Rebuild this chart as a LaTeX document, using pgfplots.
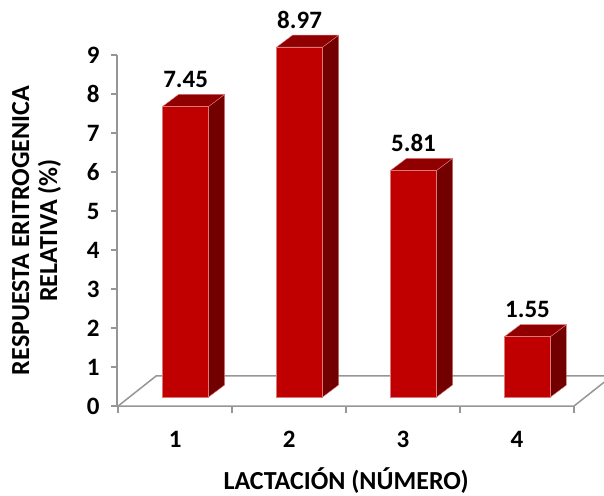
\documentclass[border=0pt]{standalone}
\usepackage{fontspec}
\setmainfont{Carlito}
\usepackage{pgfplots}
\usepackage{pgfplotstable}
\pgfplotsset{compat=1.18}

\definecolor{barfront}{RGB}{192,0,0}
\definecolor{bartop}{RGB}{145,0,0}
\definecolor{barside}{RGB}{115,0,0}
\definecolor{baredge}{RGB}{220,120,120}
\definecolor{axisgray}{RGB}{150,150,150}

\pgfplotstableread{
lact valor
1 7.45
2 8.97
3 5.81
4 1.55
}\datos

% oblique bar geometry, in axis units
\def\sx{0.092}   % x shift of the bar from the category centre
\def\hw{0.2018}  % half width of the front face
\def\bb{0.23}    % height of the bar base above the floor front edge
\def\dx{0.140}   % depth offset in x
\def\dy{0.308}   % depth offset in y

\begin{document}
\begin{tikzpicture}
\begin{axis}[
  scale only axis, width=487pt, height=406pt,
  xmin=0.49, xmax=4.763, ymin=0, ymax=10.41,
  clip=false,
  axis lines*=left,
  axis line style={draw=none},
  ytick={0,...,9},
  xtick={1,2,3,4},
  xticklabels={1,2,3,4},
  minor xtick={0.5,1.5,2.5,3.5,4.5},
  tick align=outside,
  major tick length=6pt,
  minor tick length=7pt,
  major x tick style={draw=none},
  y tick style={axisgray, line width=1.5pt},
  minor x tick style={axisgray, line width=1.5pt},
  /pgf/number format/assume math mode=true,
  tick label style={font=\bfseries\fontsize{25}{29}\selectfont},
  yticklabel style={anchor=east, xshift=-8pt},
  xticklabel style={anchor=north, yshift=-16pt},
  xlabel={LACTACIÓN (NÚMERO)},
  ylabel={RESPUESTA ERITROGENICA\\RELATIVA (\%)},
  every axis x label/.style={at={(axis cs:2.5,0)}, anchor=base, yshift=-83pt,
    font=\bfseries\fontsize{26}{30}\selectfont},
  every axis y label/.style={at={(axis cs:-0.215,4.5)}, rotate=90, anchor=center,
    align=center, font=\bfseries\fontsize{26}{28}\selectfont},
]
% y axis line
\addplot[axisgray, line width=1.5pt] coordinates {(0.49,0) (0.49,9)};
% floor
\addplot[axisgray, line width=1.5pt] coordinates {(0.49,0) (4.5,0) (4.763,0.608)};
\addplot[axisgray, line width=1.5pt] coordinates {(0.5,0) (0.833,0.77) (4.763,0.77)};

% bars: side, top and front faces
\pgfplotsinvokeforeach{0,1,2,3}{
  \pgfplotstablegetelem{#1}{valor}\of\datos
  \pgfmathsetmacro\xa{#1+1+\sx-\hw}
  \pgfmathsetmacro\xb{#1+1+\sx+\hw}
  \pgfmathsetmacro\yt{\bb+\pgfplotsretval}
  \pgfmathsetmacro\xab{\xa+\dx}
  \pgfmathsetmacro\xbb{\xb+\dx}
  \pgfmathsetmacro\ybb{\bb+\dy}
  \pgfmathsetmacro\ytb{\yt+\dy}
  \edef\caras{%
    \noexpand\addplot[draw=baredge, line width=0.4pt, fill=barside]
      coordinates {(\xb,\bb) (\xbb,\ybb) (\xbb,\ytb) (\xb,\yt)} -- cycle;
    \noexpand\addplot[draw=baredge, line width=0.4pt, fill=bartop]
      coordinates {(\xa,\yt) (\xb,\yt) (\xbb,\ytb) (\xab,\ytb)} -- cycle;
    \noexpand\addplot[draw=baredge, line width=0.4pt, fill=barfront]
      coordinates {(\xa,\bb) (\xb,\bb) (\xb,\yt) (\xa,\yt)} -- cycle;
  }
  \caras
}

% value labels
\addplot[draw=none, mark=none, nodes near coords, point meta=explicit symbolic,
  nodes near coords style={anchor=base, yshift=7pt,
    font=\bfseries\fontsize{25}{29}\selectfont}]
  table[x expr=\thisrow{lact}+\sx, y expr=\thisrow{valor}+\bb+\dy, meta=valor]{\datos};
\end{axis}
\pgfresetboundingbox
\useasboundingbox ([xshift=-117pt,yshift=-89pt]current axis.south west)
  rectangle (current axis.north east);
\end{tikzpicture}
\end{document}
